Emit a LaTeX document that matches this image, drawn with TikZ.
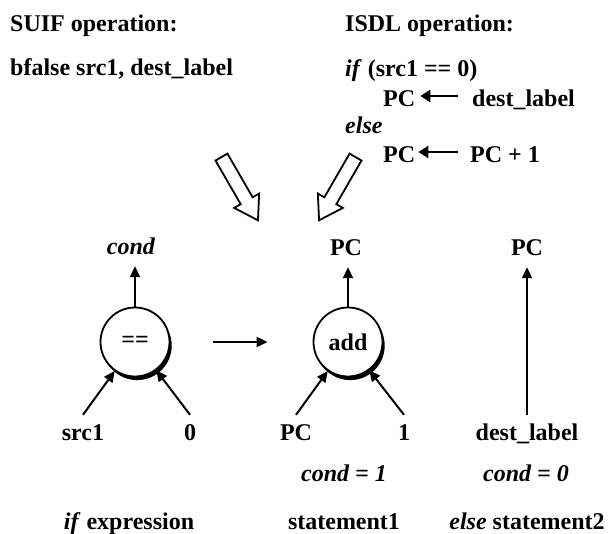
\documentclass[tikz,border=0pt]{standalone}
\usepackage{fontspec}
\setmainfont{Liberation Serif}
\usetikzlibrary{arrows.meta,shapes.arrows,shadows}
\begin{document}
\begin{tikzpicture}[x=1pt,y=-1pt,
  txt/.style={font=\fontsize{24}{28}\selectfont\bfseries, inner sep=0pt,
              text height=16pt, text depth=4pt},
  lbl/.style={txt, anchor=base},
  line/.style={txt, anchor=base west},
  op/.style={circle, draw, line width=1.8pt, fill=white, minimum size=69pt,
             inner sep=0pt, font=\fontsize{24}{28}\selectfont\bfseries,
             drop shadow={shadow xshift=2.2pt, shadow yshift=-3.6pt,
                          opacity=1, fill=black}},
  arr/.style={-{Triangle[length=11pt,width=10pt]}, line width=2pt},
  asgn/.style={-{Triangle[length=10pt,width=12pt]}, line width=2.6pt},
  hollow/.style={single arrow, draw, line width=1.8pt, fill=white,
                 minimum height=73pt, inner sep=6pt,
                 single arrow head extend=7.5pt, single arrow tip angle=65}
]
\useasboundingbox (0,0) rectangle (609,533);

% operation texts
\node[line] (suif)   at (10,31)  {SUIF operation:};
\node[line] (isdl)   at (345,31) {ISDL operation:};
\node[line] (bfalse) at (10,75)  {bfalse src1, dest\_label};
\node[line] (ifc)    at (345,76) {\textit{if} (src1 == 0)};
\node[line] (pc1)    at (383,106) {PC};
\node[line] (dl1)    at (472,106) {dest\_label};
\node[line] (els)    at (345,133) {\textit{else}};
\node[line] (pc2)    at (383,162) {PC};
\node[line] (inc)    at (470,162) {PC + 1};
\draw[asgn, shorten <=14pt, shorten >=5pt]
  ([yshift=10pt]dl1.base west) -- ([yshift=10pt]pc1.base east);
\draw[asgn, shorten <=12pt, shorten >=3pt]
  ([yshift=10pt]inc.base west) -- ([yshift=10pt]pc2.base east);

% translation arrows
\node[hollow, rotate=-60] (tl) at (237,184) {};
\node[hollow, rotate=-120] (tr) at (340,184) {};

% operator trees
\node[op] (eq)  at (135,342) {==};
\node[op] (add) at (348,342) {add};

\node[lbl] (cond)  at (131,254) {\textit{cond}};
\node[lbl] (pct)   at (346,255) {PC};
\node[lbl] (pcr)   at (527,255) {PC};

\node[lbl] (src1)  at (83,440)  {src1};
\node[lbl] (zero)  at (190,440) {0};
\node[lbl] (pcb)   at (296,440) {PC};
\node[lbl] (one)   at (404,440) {1};
\node[lbl] (dest)  at (527,440) {dest\_label};

\node[lbl] (c1)    at (344,481) {\textit{cond = 1}};
\node[lbl] (c0)    at (526,481) {\textit{cond = 0}};

\node[lbl] (ife)   at (129,529) {\textit{if} expression};
\node[lbl] (st1)   at (344,529) {statement1};
\node[lbl] (st2)   at (527,529) {\textit{else} statement2};

\draw[arr] (eq.north) -- ([yshift=-8pt]eq.north |- cond.south);
\draw[arr] (add.north) -- ([yshift=-8pt]add.north |- pct.south);
\draw[arr] ([yshift=9pt]dest.north) -- ([yshift=-8pt]pcr.south);

\draw[arr] ([yshift=9pt]src1.north) -- (eq.235);
\draw[arr] ([yshift=9pt]zero.north) -- (eq.307);
\draw[arr] ([yshift=9pt]pcb.north) -- (add.235);
\draw[arr] ([yshift=9pt]one.north) -- (add.307);

\draw[arr, shorten <=43pt, shorten >=45pt] (eq) -- (add);
\end{tikzpicture}
\end{document}
